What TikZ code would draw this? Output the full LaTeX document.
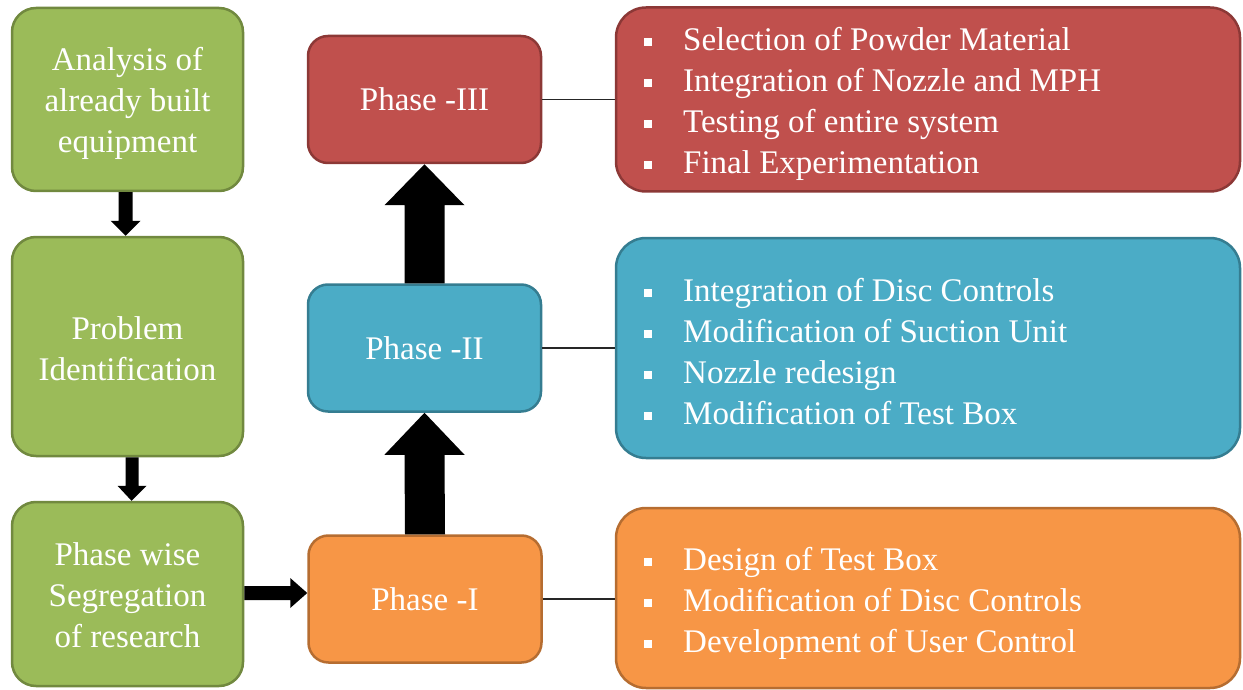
\documentclass[tikz,border=0pt]{standalone}
\usepackage{fontspec}
\setmainfont{Liberation Serif}
\usetikzlibrary{calc}
\definecolor{gfill}{HTML}{9BBB59}
\definecolor{gdraw}{HTML}{71893F}
\definecolor{rfill}{HTML}{C0504D}
\definecolor{rdraw}{HTML}{8C3836}
\definecolor{bfill}{HTML}{4BACC6}
\definecolor{bdraw}{HTML}{357D91}
\definecolor{ofill}{HTML}{F79646}
\definecolor{odraw}{HTML}{B66D31}
\newcommand{\bsq}{\rule[4pt]{8pt}{8pt}\hspace{31pt}}
\tikzset{
  box/.style={rectangle, line width=2.5pt, inner sep=0pt, text=white,
    font=\fontsize{33}{41}\selectfont, align=center},
  greenbox/.style={box, fill=gfill, draw=gdraw, rounded corners=24pt, minimum width=231pt},
  phasebox/.style={box, rounded corners=20pt, minimum width=233pt, minimum height=127pt},
  listbox/.style={box, rounded corners=30pt, minimum width=624pt},
  boxtext/.style={inner sep=0pt, text=white, font=\fontsize{33}{41}\selectfont, align=center},
  listtext/.style={anchor=west, inner sep=0pt, text=white,
    font=\fontsize{33}{41}\selectfont, align=left},
  link/.style={draw=black!85, line width=1.3pt},
  bigarrow/.style={fill=black},
}
\begin{document}
\begin{tikzpicture}[x=1pt,y=-1pt]
\useasboundingbox (0,0) rectangle (1243,690);
% left column
\node[greenbox, minimum height=183pt] (g1) at (127.5,99.5) {};
\node[greenbox, minimum height=219pt] (g2) at (127.5,346.5) {};
\node[greenbox, minimum height=184pt] (g3) at (127.5,594) {};
\node[boxtext] (g1t) at ($(g1.center)+(0,4)$) {Analysis of\\already built\\equipment};
\node[boxtext] (g2t) at ($(g2.center)+(0,2)$) {Problem\\Identification};
\node[boxtext] (g3t) at ($(g3.center)+(0,1.5)$) {Phase wise\\Segregation\\of research};
% phases
\node[phasebox, fill=rfill, draw=rdraw] (p3) at (424.5,99.5) {Phase -III};
\node[phasebox, fill=bfill, draw=bdraw] (p2) at (424.5,348) {Phase -II};
\node[phasebox, fill=ofill, draw=odraw] (p1) at (425,599) {Phase -I};
% right boxes
\node[listbox, fill=rfill, draw=rdraw, minimum height=184pt] (r3) at (928,99.5) {};
\node[listbox, fill=bfill, draw=bdraw, minimum height=220pt] (r2) at (928,348) {};
\node[listbox, fill=ofill, draw=odraw, minimum height=180pt] (r1) at (928,598) {};
\node[listtext] (r3t) at (644,103.5) {\bsq Selection of Powder Material\\\bsq Integration of Nozzle and MPH\\\bsq Testing of entire system\\\bsq Final Experimentation};
\node[listtext] (r2t) at (644,351.5) {\bsq Integration of Disc Controls\\\bsq Modification of Suction Unit\\\bsq Nozzle redesign\\\bsq Modification of Test Box};
\node[listtext] (r1t) at (644,603) {\bsq Design of Test Box\\\bsq Modification of Disc Controls\\\bsq Development of User Control};
% connectors
\draw[link] (p3.east) -- (r3.west);
\draw[link] (p2.east) -- (r2.west);
\draw[link] (p1.east) -- (p1.east -| r1.west);
% small arrows
\fill[bigarrow] ($(g1.south)+(-9,0)$) -- ($(g2.north)+(-9,-15)$) -- ($(g2.north)+(-17,-15)$) -- ($(g2.north)+(-2,0)$)
  -- ($(g2.north)+(13,-15)$) -- ($(g2.north)+(5,-15)$) -- ($(g1.south)+(5,0)$) -- cycle;
\fill[bigarrow] ($(g2.south)+(-2,0)$) -- ($(g3.north)+(-2,-15)$) -- ($(g3.north)+(-10,-15)$) -- ($(g3.north)+(4,0)$)
  -- ($(g3.north)+(19,-15)$) -- ($(g3.north)+(11,-15)$) -- ($(g2.south)+(11,0)$) -- cycle;
\coordinate (hs) at ($(g3.east)+(0,-1)$);
\coordinate (ht) at (hs -| p1.west);
\fill[bigarrow] ($(hs)+(0,-7)$) -- ($(ht)+(-17,-7)$) -- ($(ht)+(-17,-15)$) -- (ht)
  -- ($(ht)+(-17,15)$) -- ($(ht)+(-17,7)$) -- ($(hs)+(0,7)$) -- cycle;
% big arrows
\fill[bigarrow] ($(p1.north)+(-20,0)$) -- ($(p2.south)+(-20,42)$) -- ($(p2.south)+(-40,42)$) -- (p2.south)
  -- ($(p2.south)+(40,42)$) -- ($(p2.south)+(20,42)$) -- ($(p1.north)+(20,0)$) -- cycle;
\fill[bigarrow] ($(p2.north)+(-20,0)$) -- ($(p3.south)+(-20,41)$) -- ($(p3.south)+(-40,41)$) -- (p3.south)
  -- ($(p3.south)+(40,41)$) -- ($(p3.south)+(20,41)$) -- ($(p2.north)+(20,0)$) -- cycle;
\end{tikzpicture}
\end{document}
